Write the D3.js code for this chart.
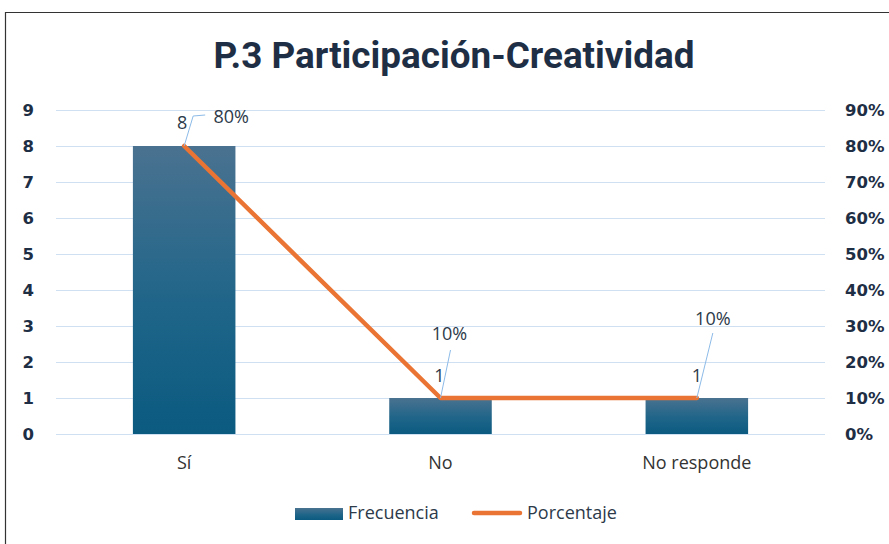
<!DOCTYPE html>
<html><head><meta charset="utf-8">
<script src="https://cdn.jsdelivr.net/npm/d3@7"></script>
<style>body{margin:0;background:#fff}svg{display:block}</style>
</head><body>
<script>
const categories = ["Sí", "No", "No responde"];
const frecuencia = [8, 1, 1];
const porcentaje = [0.8, 0.1, 0.1];
const leftTicks = [0,1,2,3,4,5,6,7,8,9];
const rightTicks = [0,0.1,0.2,0.3,0.4,0.5,0.6,0.7,0.8,0.9];
const title = "P.3 Participación-Creatividad";
const legendLabels = ["Frecuencia", "Porcentaje"];

const W = 889, H = 544;
const svg = d3.select("body").append("svg").attr("width", W).attr("height", H);
const navy = "#1e2e44";
const txt = "#2d3a4a";

// border
svg.append("path").attr("d", `M5.5,${H} V12.5 H${W}`).attr("fill","none").attr("stroke","#333").attr("stroke-width",1.2);

const defs = svg.append("defs");
const g = defs.append("linearGradient").attr("id","barg").attr("x1",0).attr("y1",0).attr("x2",0).attr("y2",1);
g.append("stop").attr("offset","0%").attr("stop-color","#4a7290");
g.append("stop").attr("offset","55%").attr("stop-color","#1f6589");
g.append("stop").attr("offset","100%").attr("stop-color","#0b5a80");

const x = d3.scaleBand().domain(categories).range([56, 825]).paddingInner(0.6).paddingOuter(0.3);
const y = d3.scaleLinear().domain([0, 9]).range([434, 110]);
const y2 = d3.scaleLinear().domain([0, 0.9]).range([434, 110]);

// title
svg.append("text").attr("x", 454).attr("y", 68).attr("text-anchor","middle")
  .attr("font-family","'Liberation Sans Narrow', Roboto, sans-serif").attr("font-weight","bold").attr("font-size",37)
  .attr("fill",navy).attr("textLength",481).attr("lengthAdjust","spacingAndGlyphs").text(title);

// gridlines
svg.append("g").selectAll("line").data(leftTicks).join("line")
  .attr("x1",56).attr("x2",825).attr("y1",d=>y(d)+0.5).attr("y2",d=>y(d)+0.5)
  .attr("stroke","#cfe0f3").attr("stroke-width",1.2);

// left axis
const la = svg.append("g").attr("transform","translate(56,0)")
  .call(d3.axisLeft(y).tickValues(leftTicks).tickSize(0).tickPadding(22).tickFormat(d3.format("d")));
la.select(".domain").remove();
la.selectAll("text").attr("font-family","'DejaVu Sans', sans-serif").attr("font-weight","bold").attr("font-size",16.5).attr("fill",navy);

// right axis
const ra = svg.append("g").attr("transform","translate(825,0)")
  .call(d3.axisRight(y2).tickValues(rightTicks).tickSize(0).tickPadding(20).tickFormat(d3.format(".0%")));
ra.select(".domain").remove();
ra.selectAll("text").attr("font-family","'DejaVu Sans', sans-serif").attr("font-weight","bold").attr("font-size",16.5).attr("fill",navy);

// bars
svg.append("g").selectAll("rect").data(categories).join("rect")
  .attr("x", d=>x(d)).attr("width", x.bandwidth())
  .attr("y", (d,i)=>y(frecuencia[i])).attr("height",(d,i)=>y(0)-y(frecuencia[i]))
  .attr("fill","url(#barg)");

const lf = "'Open Sans', sans-serif";
// category labels
svg.append("g").selectAll("text").data(categories).join("text")
  .attr("x", d=>x(d)+x.bandwidth()/2).attr("y", 469).attr("text-anchor","middle")
  .attr("font-family",lf).attr("font-size",18).attr("fill","#333").text(d=>d);

// line
const cx = d => x(d)+x.bandwidth()/2;
svg.append("path").datum(categories)
  .attr("d", d3.line().x(d=>cx(d)).y((d,i)=>y2(porcentaje[i])))
  .attr("fill","none").attr("stroke","#ea7434").attr("stroke-width",4.5).attr("stroke-linejoin","round").attr("stroke-linecap","round");

// data labels
const labelFreqOff = [[-2,-17],[-1,-16],[0,-16]];
const pctLabel = [[47,-23],[9,-58],[16,-73]];
categories.forEach((c,i)=>{
  const px = cx(c), py = y2(porcentaje[i]);
  const fy = y(frecuencia[i]);
  let path;
  if (i===0) path = `M${px},${py} L${px+9},${py-30} L${px+21},${py-31}`;
  else if (i===1) path = `M${px},${py} L${px+10},${py-48}`;
  else path = `M${px},${py} L${px+16},${py-65}`;
  svg.append("path").attr("d",path).attr("fill","none").attr("stroke","#8dbbe8").attr("stroke-width",1);
  svg.append("text").attr("x",px+labelFreqOff[i][0]).attr("y",fy+labelFreqOff[i][1]).attr("text-anchor","middle")
    .attr("font-family",lf).attr("font-size",18).attr("fill",txt).text(frecuencia[i]);
  svg.append("text").attr("x",px+pctLabel[i][0]).attr("y",py+pctLabel[i][1]).attr("text-anchor","middle")
    .attr("font-family",lf).attr("font-size",18).attr("fill",txt).text(d3.format(".0%")(porcentaje[i]));
});

// legend
const lg = svg.append("g");
lg.append("rect").attr("x",295).attr("y",508).attr("width",48).attr("height",12).attr("fill","url(#barg)");
lg.append("text").attr("x",348).attr("y",519).attr("font-family",lf).attr("font-size",18).attr("fill",txt).text(legendLabels[0]);
lg.append("line").attr("x1",474).attr("x2",520).attr("y1",513).attr("y2",513).attr("stroke","#ea7434").attr("stroke-width",4.5).attr("stroke-linecap","round");
lg.append("text").attr("x",527).attr("y",519).attr("font-family",lf).attr("font-size",18).attr("fill",txt).text(legendLabels[1]);
</script>
</body></html>
